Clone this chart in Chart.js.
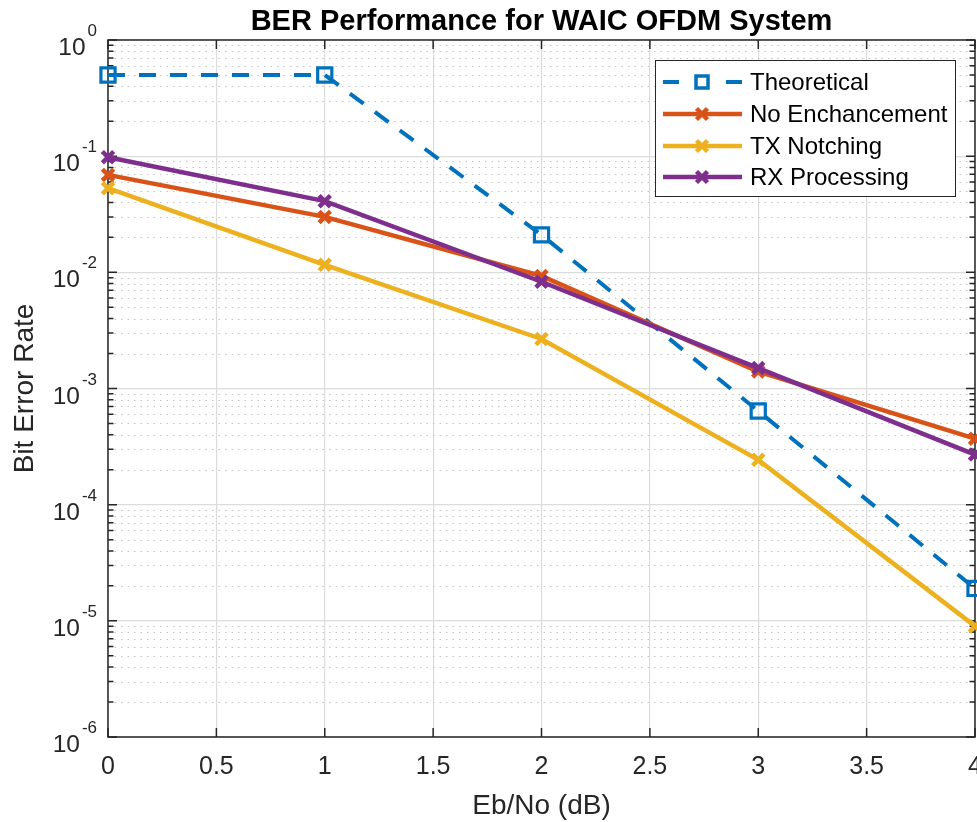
<!DOCTYPE html>
<html>
<head>
<meta charset="utf-8">
<script src="https://cdn.jsdelivr.net/npm/chart.js@4/dist/chart.umd.min.js"></script>
<style>
  html, body { margin: 0; padding: 0; background: #fff; }
  canvas { display: block; }
</style>
</head>
<body>
<canvas id="chart" width="977" height="822"></canvas>
<script>
// Eb/No in dB and the BER curves
const ebno = [0, 1, 2, 3, 4];
const theoretical = [0.5, 0.5, 0.021, 6.4e-4, 1.9e-5];
const noEnhancement = [0.069, 0.030, 0.0093, 1.4e-3, 3.7e-4];
const txNotching = [0.053, 0.0116, 2.67e-3, 2.43e-4, 9.0e-6];
const rxProcessing = [0.098, 0.041, 8.3e-3, 1.5e-3, 2.7e-4];

const seriesNames = ["Theoretical", "No Enchancement", "TX Notching", "RX Processing"];
const xTicks = [0, 0.5, 1, 1.5, 2, 2.5, 3, 3.5, 4];
const yDecades = [-6, -5, -4, -3, -2, -1, 0];

const BLUE = "#0072BD";
const ORANGE = "#D95319";
const YELLOW = "#EDB120";
const PURPLE = "#7E2F8E";
const AXIS = "#262626";
const FONT = "'Liberation Sans', Arial, Helvetica, sans-serif";

const toPoints = (vals) => ebno.map((x, i) => ({ x, y: vals[i] }));

function crossLine(color) {
  return {
    borderColor: color,
    backgroundColor: color,
    borderWidth: 4.5,
    pointStyle: "crossRot",
    pointRadius: 8,
    pointBorderWidth: 4.5,
    pointBorderColor: color,
    tension: 0,
    clip: false,
  };
}

const datasets = [
  {
    label: seriesNames[0],
    data: toPoints(theoretical),
    borderColor: BLUE,
    backgroundColor: "rgba(0,0,0,0)",
    borderWidth: 4,
    borderDash: [17, 14],
    pointStyle: "rect",
    pointRadius: 10,
    pointBorderWidth: 3.2,
    pointBorderColor: BLUE,
    pointBackgroundColor: "rgba(0,0,0,0)",
    tension: 0,
    clip: false,
    order: 3,
  },
  { label: seriesNames[1], data: toPoints(noEnhancement), ...crossLine(ORANGE), order: 2 },
  { label: seriesNames[2], data: toPoints(txNotching), ...crossLine(YELLOW), order: 1 },
  { label: seriesNames[3], data: toPoints(rxProcessing), ...crossLine(PURPLE), order: 0 },
];

// MATLAB-style axes: minor dotted grid, inward ticks, box, labels
const axesPlugin = {
  id: "matlabAxes",
  beforeDatasetsDraw(chart) {
    const { ctx, chartArea: a, scales } = chart;
    const xs = scales.x, ys = scales.y;
    ctx.save();

    // minor grid
    ctx.strokeStyle = "#c4c4c4";
    ctx.lineWidth = 1;
    ctx.setLineDash([1.5, 5]);
    yDecades.slice(0, -1).forEach((d) => {
      for (let m = 2; m <= 9; m++) {
        const y = Math.round(ys.getPixelForValue(m * Math.pow(10, d))) + 0.5;
        ctx.beginPath();
        ctx.moveTo(a.left, y);
        ctx.lineTo(a.right, y);
        ctx.stroke();
      }
    });
    ctx.setLineDash([]);

    // box
    ctx.strokeStyle = AXIS;
    ctx.lineWidth = 1.5;
    ctx.strokeRect(a.left, a.top, a.right - a.left, a.bottom - a.top);

    // ticks
    ctx.beginPath();
    xTicks.forEach((v) => {
      const x = xs.getPixelForValue(v);
      ctx.moveTo(x, a.bottom); ctx.lineTo(x, a.bottom - 9);
      ctx.moveTo(x, a.top); ctx.lineTo(x, a.top + 9);
    });
    yDecades.forEach((d) => {
      const y = ys.getPixelForValue(Math.pow(10, d));
      ctx.moveTo(a.left, y); ctx.lineTo(a.left + 9, y);
      ctx.moveTo(a.right, y); ctx.lineTo(a.right - 9, y);
      if (d < 0) {
        for (let m = 2; m <= 9; m++) {
          const ym = ys.getPixelForValue(m * Math.pow(10, d));
          ctx.moveTo(a.left, ym); ctx.lineTo(a.left + 5.5, ym);
          ctx.moveTo(a.right, ym); ctx.lineTo(a.right - 5.5, ym);
        }
      }
    });
    ctx.stroke();

    // x tick labels
    ctx.fillStyle = AXIS;
    ctx.font = "25px " + FONT;
    ctx.textAlign = "center";
    ctx.textBaseline = "alphabetic";
    xTicks.forEach((v) => {
      ctx.fillText(String(v), xs.getPixelForValue(v), a.bottom + 37);
    });

    // y tick labels as powers of ten
    yDecades.forEach((d) => {
      const y = ys.getPixelForValue(Math.pow(10, d));
      const right = a.left - 11;
      ctx.font = "17px " + FONT;
      ctx.textAlign = "right";
      const exp = String(d);
      ctx.fillText(exp, right, y - 4);
      const w = ctx.measureText(exp).width;
      ctx.font = "24.5px " + FONT;
      ctx.fillText("10", right - w - 2, y + 15);
    });

    // title and axis titles
    const cx = (a.left + a.right) / 2;
    ctx.textAlign = "center";
    ctx.font = "bold 29px " + FONT;
    ctx.fillStyle = "#000";
    ctx.fillText("BER Performance for WAIC OFDM System", cx, 30);
    ctx.fillStyle = AXIS;
    ctx.font = "28px " + FONT;
    ctx.fillText("Eb/No (dB)", cx, a.bottom + 77);
    ctx.save();
    ctx.translate(33, (a.top + a.bottom) / 2);
    ctx.rotate(-Math.PI / 2);
    ctx.fillText("Bit Error Rate", 0, 0);
    ctx.restore();

    ctx.restore();
  },
  afterDraw(chart) {
    const { ctx } = chart;
    const bx = 655, by = 60, bw = 300, bh = 136;
    ctx.save();
    ctx.fillStyle = "#fff";
    ctx.fillRect(bx, by, bw, bh);
    ctx.strokeStyle = AXIS;
    ctx.lineWidth = 1;
    ctx.strokeRect(bx + 0.5, by + 0.5, bw, bh);

    const rowY = [82, 114, 146, 177];
    const x0 = 663, x1 = 742, xm = 702;
    chart.data.datasets.forEach((ds, i) => {
      const y = rowY[i];
      ctx.strokeStyle = ds.borderColor;
      ctx.lineWidth = ds.borderWidth;
      if (ds.borderDash) {
        ctx.beginPath();
        ctx.moveTo(x0, y); ctx.lineTo(x0 + 16, y);
        ctx.moveTo(x1 - 16, y); ctx.lineTo(x1, y);
        ctx.stroke();
        ctx.lineWidth = 3.5;
        ctx.strokeRect(xm - 6, y - 6, 12, 12);
      } else {
        ctx.beginPath();
        ctx.moveTo(x0, y); ctx.lineTo(x1, y);
        ctx.stroke();
        ctx.lineWidth = 4.5;
        ctx.beginPath();
        ctx.moveTo(xm - 5.5, y - 5.5); ctx.lineTo(xm + 5.5, y + 5.5);
        ctx.moveTo(xm - 5.5, y + 5.5); ctx.lineTo(xm + 5.5, y - 5.5);
        ctx.stroke();
      }
      ctx.fillStyle = "#000";
      ctx.font = "24px " + FONT;
      ctx.textAlign = "left";
      ctx.textBaseline = "middle";
      ctx.fillText(ds.label, 750, y + 1);
    });
    ctx.restore();
  },
};

new Chart(document.getElementById("chart"), {
  type: "line",
  data: { datasets },
  options: {
    responsive: false,
    animation: false,
    devicePixelRatio: 1,
    layout: { autoPadding: false, padding: { top: 40, right: 2, left: 0, bottom: 0 } },
    plugins: {
      legend: { display: false },
      title: { display: false },
      tooltip: { enabled: false },
    },
    scales: {
      x: {
        type: "linear",
        min: 0,
        max: 4,
        ticks: { display: false, stepSize: 0.5 },
        grid: { color: "#dcdcdc", lineWidth: 1.2, drawTicks: false },
        border: { display: false },
        afterFit(s) {
          s.height = 85;
          s.paddingLeft = 0;
          s.paddingRight = 0;
        },
      },
      y: {
        type: "logarithmic",
        min: 1e-6,
        max: 1,
        ticks: { display: false },
        afterBuildTicks(s) {
          s.ticks = yDecades.map((d) => ({ value: Math.pow(10, d), major: true }));
        },
        grid: { color: "#dcdcdc", lineWidth: 1.2, drawTicks: false },
        border: { display: false },
        afterFit(s) {
          s.width = 108;
        },
      },
    },
  },
  plugins: [axesPlugin],
});
</script>
</body>
</html>
